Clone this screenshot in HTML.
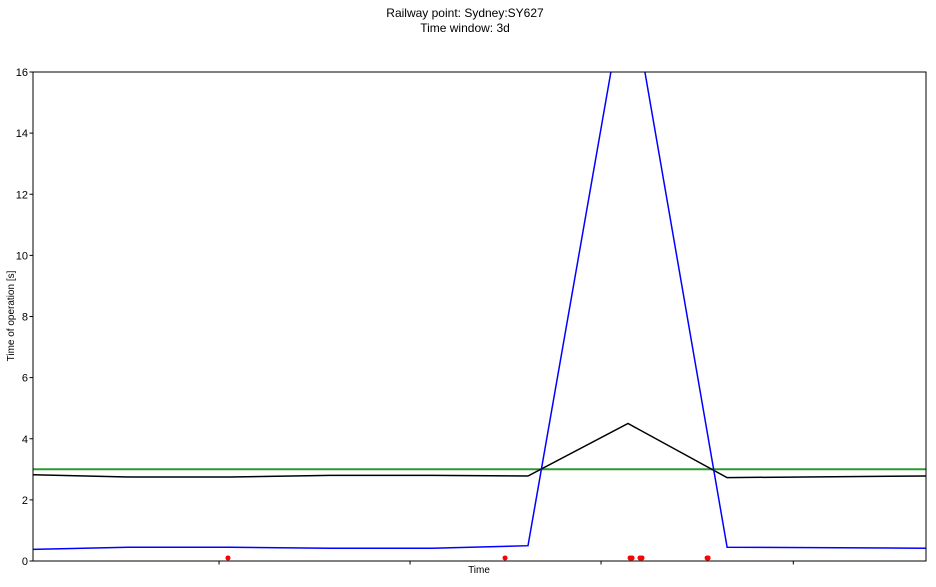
<!DOCTYPE html>
<html><head><meta charset="utf-8"><style>
body{margin:0;background:#fff;width:936px;height:582px;overflow:hidden;font-family:"Liberation Sans","DejaVu Sans",sans-serif}
</style></head><body>
<svg id="chart" width="936" height="582" xmlns="http://www.w3.org/2000/svg" font-family="Liberation Sans, DejaVu Sans, sans-serif">
<text x="465" y="17" text-anchor="middle" font-size="12">Railway point: Sydney:SY627</text>
<text x="465" y="32" text-anchor="middle" font-size="12">Time window: 3d</text>
<defs><clipPath id="clip"><rect x="33" y="72" width="893" height="489"/></clipPath></defs>
<g id="marks" clip-path="url(#clip)"></g>
<g id="axes"></g>
<text x="479" y="573" text-anchor="middle" font-size="10">Time</text>
<text transform="translate(14,316) rotate(-90)" text-anchor="middle" font-size="10">Time of operation [s]</text>
</svg>
<script>
const blueX=[0,7.82,15.88,23.95,32.17,39.91,47.97,55.96,72];
const blueY=[0.38,0.45,0.45,0.42,0.42,0.5,19.2,0.45,0.42];
const blackX=[0,7.82,15.88,23.95,32.17,39.91,47.97,55.96,72];
const blackY=[2.82,2.75,2.75,2.8,2.8,2.78,4.5,2.73,2.78];
const thresholdY=[3.0];
const redX=[15.72,38.06,48.14,48.30,48.94,49.10,54.35,54.43];
const redY=[0.1,0.1,0.1,0.1,0.1,0.1,0.1,0.1];
const yTicks=[0,2,4,6,8,10,12,14,16];
const xTicks=[15,30.4,45.8,61.3];

const X0=33,X1=926,Y0=561,Y1=72;
const xs=v=>X0+(v-0)/(72-0)*(X1-X0);
const ys=v=>Y0-(v-0)/(16-0)*(Y0-Y1);
const NS='http://www.w3.org/2000/svg';
const marks=document.getElementById('marks'),axes=document.getElementById('axes');
function mk(t,a,p){const e=document.createElementNS(NS,t);for(const k in a)e.setAttribute(k,a[k]);p.appendChild(e);return e;}
function line(xa,ya,color,name,w){
 const d=xa.map((x,i)=>(i?'L':'M')+xs(x).toFixed(1)+','+ys(ya[i]).toFixed(1)).join('');
 const p=mk('path',{d:d,fill:'none',stroke:color,'stroke-width':w||1.5},marks);
 
 
}
line([0,72],[thresholdY[0],thresholdY[0]],'#2e9a2e','threshold-line',2);
line(blackX,blackY,'#000','mean-line');
line(blueX,blueY,'#0000ff','operation-time-line');
redX.forEach((x,i)=>{
 const c=mk('circle',{cx:xs(x),cy:ys(redY[i]),r:2.5,fill:'#ff0000'},marks);
 
 
});
const fr=mk('rect',{x:X0,y:Y1,width:X1-X0,height:Y0-Y1,fill:'none',stroke:'#000','stroke-width':1},axes);


yTicks.forEach(v=>{
 const y=ys(v);
 mk('line',{x1:X0-3.5,x2:X0,y1:y,y2:y,stroke:'#000'},axes);
 const t=mk('text',{x:X0-5,y:y+4,'text-anchor':'end','font-size':11},axes);
 t.textContent=v;
 
 
});
xTicks.forEach(v=>{
 const x=xs(v);
 const l=mk('line',{x1:x,x2:x,y1:Y0,y2:Y0+3.5,stroke:'#000'},axes);
 
 
});
</script>
</body></html>
